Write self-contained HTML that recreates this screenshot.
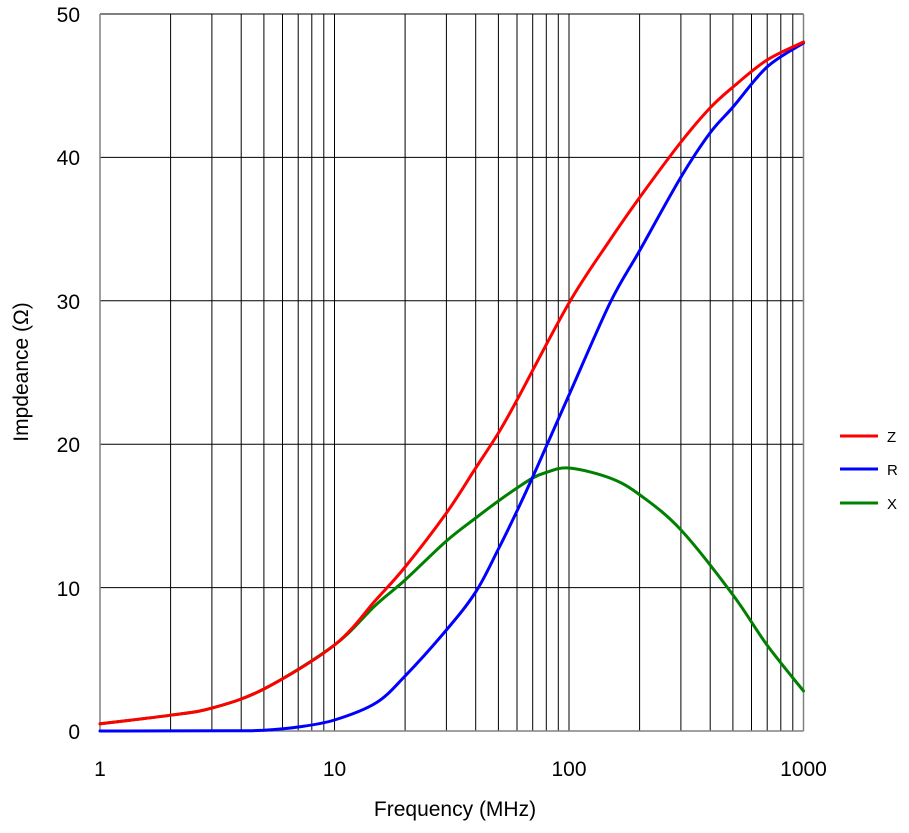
<!DOCTYPE html>
<html><head><style>body{margin:0;background:#fff}svg{display:block}text{font-family:"Liberation Sans",Arial,sans-serif;fill:#000}</style></head>
<body>
<svg width="909" height="833" xmlns="http://www.w3.org/2000/svg">
<g stroke="#000" stroke-width="1">
<line x1="170.6" y1="14" x2="170.6" y2="731"/><line x1="211.9" y1="14" x2="211.9" y2="731"/><line x1="241.2" y1="14" x2="241.2" y2="731"/><line x1="263.9" y1="14" x2="263.9" y2="731"/><line x1="282.5" y1="14" x2="282.5" y2="731"/><line x1="298.2" y1="14" x2="298.2" y2="731"/><line x1="311.8" y1="14" x2="311.8" y2="731"/><line x1="323.8" y1="14" x2="323.8" y2="731"/><line x1="334.5" y1="14" x2="334.5" y2="731"/>
<line x1="405.1" y1="14" x2="405.1" y2="731"/><line x1="446.4" y1="14" x2="446.4" y2="731"/><line x1="475.7" y1="14" x2="475.7" y2="731"/><line x1="498.4" y1="14" x2="498.4" y2="731"/><line x1="517" y1="14" x2="517" y2="731"/><line x1="532.7" y1="14" x2="532.7" y2="731"/><line x1="546.3" y1="14" x2="546.3" y2="731"/><line x1="558.3" y1="14" x2="558.3" y2="731"/><line x1="569" y1="14" x2="569" y2="731"/>
<line x1="639.6" y1="14" x2="639.6" y2="731"/><line x1="680.9" y1="14" x2="680.9" y2="731"/><line x1="710.2" y1="14" x2="710.2" y2="731"/><line x1="732.9" y1="14" x2="732.9" y2="731"/><line x1="751.5" y1="14" x2="751.5" y2="731"/><line x1="767.2" y1="14" x2="767.2" y2="731"/><line x1="780.8" y1="14" x2="780.8" y2="731"/><line x1="792.8" y1="14" x2="792.8" y2="731"/>
<line x1="100" y1="14" x2="803.5" y2="14"/><line x1="100" y1="157.4" x2="803.5" y2="157.4"/><line x1="100" y1="300.8" x2="803.5" y2="300.8"/><line x1="100" y1="444.2" x2="803.5" y2="444.2"/><line x1="100" y1="587.6" x2="803.5" y2="587.6"/>
</g>
<g stroke="#808080" stroke-width="1.5"><line x1="100" y1="14" x2="100" y2="731"/><line x1="803.5" y1="14" x2="803.5" y2="731"/><line x1="100" y1="731" x2="803.5" y2="731"/></g>
<g fill="none" stroke-width="3" stroke-linejoin="round" stroke-linecap="round">
<path id="g" stroke="#008000" data-p="100,723.8 170.6,715.2 211.9,708.1 263.9,689 334.5,645 375.8,605 405.1,580 446.4,541 475.7,518 498.4,501 517,488 532.7,478 546,472.5 569,468 610,478 640,495 681,530 733,595 767,645 803.5,691"/>
<path id="b" stroke="#0000ff" data-p="100,731 230,730.8 263.9,730.2 298.2,727 334.5,720 375.8,703 405.1,676 446.4,630 475.7,592 498.4,549 517,511 532.7,477 546,447 569,395 610,303 640,250 681,177 710,133 733,107 767,67 803.5,43"/>
<path id="r" stroke="#ff0000" data-p="100,723.8 170.6,715.2 211.9,708.1 263.9,689 334.5,645 375.8,600 405.1,567 446.4,513 475.7,468 498.4,433 517,400 569,303 610,240 640,197 681,142 710,108 733,87 767,60 803.5,42"/>
</g>
<g font-size="21" text-anchor="end">
<text x="80" y="22">50</text><text x="80" y="165">40</text><text x="80" y="309">30</text><text x="80" y="452">20</text><text x="80" y="596">10</text><text x="80" y="739">0</text>
</g>
<g font-size="21" text-anchor="middle">
<text x="100" y="776">1</text><text x="334.5" y="776">10</text><text x="569" y="776">100</text><text x="803.5" y="776">1000</text>
<text x="455" y="816">Frequency (MHz)</text>
</g>
<text transform="translate(28,372) rotate(-90)" font-size="21" text-anchor="middle">Impdeance (Ω)</text>
<g stroke-width="3"><line x1="840" y1="436" x2="878" y2="436" stroke="#ff0000"/><line x1="840" y1="469" x2="878" y2="469" stroke="#0000ff"/><line x1="840" y1="503" x2="878" y2="503" stroke="#008000"/></g>
<g font-size="15"><text x="887" y="442">Z</text><text x="887" y="475">R</text><text x="887" y="509">X</text></g>
</svg>
<script>
["g","b","r"].forEach(function(id){
var el=document.getElementById(id);
var p=el.getAttribute("data-p").split(" ").map(function(s){return s.split(",").map(Number);});
var d="M"+p[0][0]+","+p[0][1];
for(var i=0;i<p.length-1;i++){
var p0=p[i-1]||p[i],p1=p[i],p2=p[i+1],p3=p[i+2]||p2;
var c1x=p1[0]+(p2[0]-p0[0])/6,c1y=p1[1]+(p2[1]-p0[1])/6;
var c2x=p2[0]-(p3[0]-p1[0])/6,c2y=p2[1]-(p3[1]-p1[1])/6;
d+=" C"+c1x.toFixed(1)+","+c1y.toFixed(1)+" "+c2x.toFixed(1)+","+c2y.toFixed(1)+" "+p2[0]+","+p2[1];
}
el.setAttribute("d",d);
});
</script>
<script>
["g","b","r"].forEach(function(id){var el=document.getElementById(id);if(!el.getAttribute("d")){el.setAttribute("d","M"+el.getAttribute("data-p").replace(/ /g," L"));}});
</script>
</body></html>
